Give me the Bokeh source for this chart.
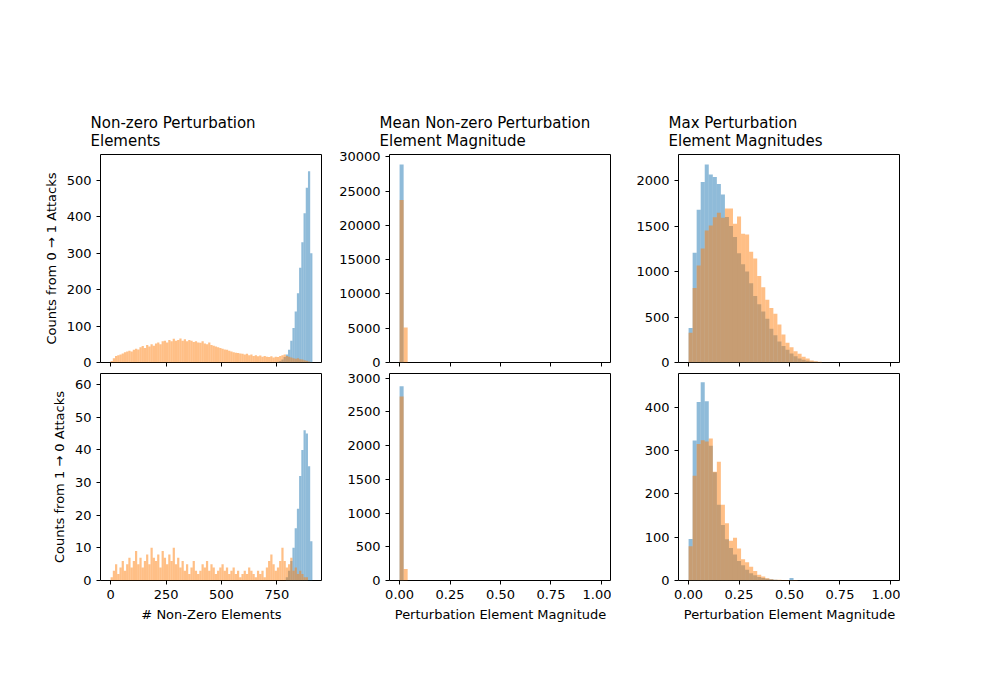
from bokeh.plotting import figure
from bokeh.layouts import column, row
from bokeh.models import Range1d, Legend, LegendItem, FixedTicker
from bokeh.embed import file_html
from bokeh.resources import INLINE

BLUE = "#1f77b4"
ORANGE = "#ff7f0e"

# non-zero element counts, bins of 10 starting at the given edge
nz_w = 10
nz_first_top_start = 750
nz_first_top = [2, 4, 8, 15, 22, 35, 60, 95, 140, 190, 260, 330, 410, 480, 525, 300]
nz_best_top_start = 0
nz_best_top = [4, 12, 18, 20, 22, 25, 28, 30, 32, 30,
               35, 38, 36, 42, 45, 40, 48, 44, 50, 46,
               52, 55, 50, 58, 60, 55, 62, 58, 65, 60,
               62, 66, 60, 64, 58, 62, 60, 56, 58, 55,
               54, 58, 52, 50, 55, 48, 46, 44, 42, 40,
               38, 36, 35, 32, 30, 28, 27, 26, 25, 24,
               22, 24, 20, 22, 18, 20, 17, 19, 16, 18,
               16, 15, 17, 14, 16, 15, 18, 20, 22, 18,
               16, 14, 12, 10, 12, 9, 8, 6, 5, 3, 1]
nz_first_bot_start = 790
nz_first_bot = [1, 3, 6, 10, 16, 22, 32, 40, 46, 45, 35, 12]
nz_best_bot_start = 0
nz_best_bot = [1, 3, 5, 2, 4, 6, 3, 5, 7, 4,
               6, 9, 5, 7, 4, 6, 8, 5, 10, 7,
               6, 8, 4, 9, 7, 5, 8, 6, 10, 5,
               7, 4, 6, 3, 5, 2, 4, 6, 3, 2,
               3, 5, 4, 6, 3, 5, 4, 2, 3, 4,
               5, 3, 4, 2, 3, 4, 2, 3, 1, 2,
               3, 2, 4, 3, 2, 1, 3, 2, 3, 1,
               4, 6, 8, 5, 3, 4, 6, 10, 6, 4,
               5, 7, 3, 4, 2, 3, 2, 1, 1, 0, 0]

# magnitude histograms, bins of 0.02 from 0
mag_w = 0.02
mean_first_top = [28900]
mean_best_top = [23700, 5100]
mean_first_bot = [2880]
mean_best_bot = [2730, 170]
max_first_top = [380, 1205, 1680, 1985, 2175, 2065, 2040, 1963, 1846, 1600,
                 1500, 1380, 1200, 1080, 1000, 870, 730, 640, 560, 480,
                 370, 300, 230, 180, 140, 100, 70, 45, 30, 20, 12, 8, 4]
max_best_top = [326, 820, 1066, 1253, 1450, 1505, 1597, 1645, 1590, 1692,
                1692, 1524, 1604, 1414, 1406, 1216, 1143, 952, 828, 689,
                600, 535, 418, 308, 216, 168, 125, 95, 62, 44, 22, 15, 7]
max_first_bot = [96, 323, 412, 458, 414, 311, 250, 175, 128, 95,
                 75, 60, 45, 35, 25, 17, 12, 8, 6, 4, 3, 2, 1, 0, 0, 6]
max_best_bot = [79, 242, 315, 324, 321, 328, 251, 274, 175, 132,
                92, 99, 74, 49, 42, 32, 22, 13, 9, 5, 3, 2, 2, 1, 1, 1, 1]

FONT = "DejaVu Sans"


def hist(p, start, w, counts, color):
    lefts = [start + i * w for i in range(len(counts))]
    return p.quad(left=lefts, right=[l + w for l in lefts], bottom=0, top=counts,
                  fill_color=color, fill_alpha=0.5, line_color=None)


def make(xr, ytop, yticks, xticks, top, left, bottom, title=None, ylabel=None,
         xlabel=None, show_x=True):
    p = figure(frame_width=222, frame_height=208 if top > 50 else 207,
               x_range=xr, y_range=Range1d(0, ytop),
               output_backend="svg", toolbar_location=None,
               min_border_left=left, min_border_right=0,
               min_border_top=top, min_border_bottom=bottom)
    p.xgrid.visible = False
    p.ygrid.visible = False
    p.outline_line_color = "black"
    p.outline_line_width = 1
    if title:
        p.title.text = title
        p.title.text_font = FONT
        p.title.text_font_size = "15px"
        p.title.text_font_style = "normal"
        p.title.text_color = "black"
        p.title.offset = -10
    for ax in (p.xaxis[0], p.yaxis[0]):
        ax.axis_line_color = None
        ax.major_tick_in = 0
        ax.major_tick_out = 4
        ax.major_tick_line_color = "black"
        ax.minor_tick_line_color = None
        ax.major_label_text_font = FONT
        ax.major_label_text_font_size = "13px"
        ax.major_label_text_color = "black"
        ax.axis_label_text_font = FONT
        ax.axis_label_text_font_size = "13px"
        ax.axis_label_text_font_style = "normal"
        ax.axis_label_text_color = "black"
    p.yaxis.ticker = FixedTicker(ticks=yticks)
    p.xaxis.ticker = FixedTicker(ticks=xticks)
    if xticks[-1] == 1.0:
        p.xaxis.major_label_overrides = {0.0: "0.00", 0.25: "0.25", 0.5: "0.50",
                                         0.75: "0.75", 1.0: "1.00"}
    if not show_x:
        p.xaxis.major_label_text_color = None
    if ylabel:
        p.yaxis.axis_label = ylabel
    if xlabel:
        p.xaxis.axis_label = xlabel
    return p


xr_nz = Range1d(-45.5, 955.5)
xr_mag = Range1d(-0.05, 1.05)
nz_ticks = [0, 250, 500, 750]
mag_ticks = [0.0, 0.25, 0.5, 0.75, 1.0]

p1 = make(xr_nz, 571, [0, 100, 200, 300, 400, 500], nz_ticks, 154, 100, 11,
          "Non-zero Perturbation\nElements", "Counts from 0 → 1 Attacks", show_x=False)
p2 = make(xr_mag, 30350, [0, 5000, 10000, 15000, 20000, 25000, 30000], mag_ticks, 154, 67, 11,
          "Mean Non-zero Perturbation\nElement Magnitude", show_x=False)
p3 = make(xr_mag, 2286, [0, 500, 1000, 1500, 2000], mag_ticks, 154, 67, 11,
          "Max Perturbation\nElement Magnitudes", show_x=False)
p4 = make(xr_nz, 63.4, [0, 10, 20, 30, 40, 50, 60], nz_ticks, 0, 100, 104,
          ylabel="Counts from 1 → 0 Attacks", xlabel="# Non-Zero Elements")
p5 = make(xr_mag, 3070, [0, 500, 1000, 1500, 2000, 2500, 3000], mag_ticks, 0, 67, 104,
          xlabel="Perturbation Element Magnitude")
p6 = make(xr_mag, 478, [0, 100, 200, 300, 400], mag_ticks, 0, 67, 104,
          xlabel="Perturbation Element Magnitude")

hist(p1, nz_first_top_start, nz_w, nz_first_top, BLUE)
hist(p1, nz_best_top_start, nz_w, nz_best_top, ORANGE)
hist(p4, nz_first_bot_start, nz_w, nz_first_bot, BLUE)
hist(p4, nz_best_bot_start, nz_w, nz_best_bot, ORANGE)
hist(p2, 0, mag_w, mean_first_top, BLUE)
hist(p2, 0, mag_w, mean_best_top, ORANGE)
b5 = hist(p5, 0, mag_w, mean_first_bot, BLUE)
o5 = hist(p5, 0, mag_w, mean_best_bot, ORANGE)
hist(p3, 0, mag_w, max_first_top, BLUE)
hist(p3, 0, mag_w, max_best_top, ORANGE)
hist(p6, 0, mag_w, max_first_bot, BLUE)
hist(p6, 0, mag_w, max_best_bot, ORANGE)

legend = Legend(items=[LegendItem(label="First examples", renderers=[b5]),
                       LegendItem(label="Best examples", renderers=[o5])],
                orientation="horizontal", location="center",
                label_text_font=FONT, label_text_font_size="13px",
                label_text_color="black",
                border_line_color="#cccccc", border_line_alpha=1,
                glyph_width=30, glyph_height=13, spacing=25, padding=6,
                label_standoff=8, margin=22)
p5.add_layout(legend, "below")

layout = column(row(p1, p2, p3, spacing=0), row(p4, p5, p6, spacing=0), spacing=0)
open("out.html", "w").write(file_html(layout, INLINE))
